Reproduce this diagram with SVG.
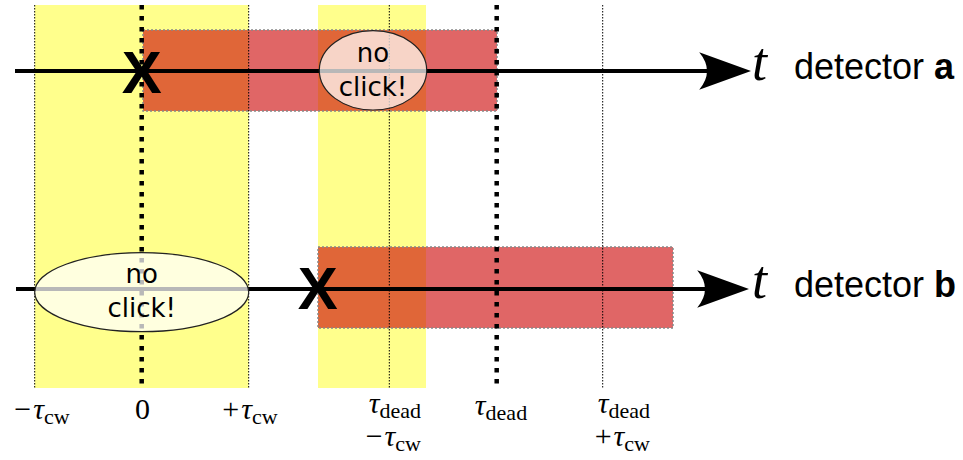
<svg xmlns="http://www.w3.org/2000/svg" width="963" height="460" viewBox="0 0 963 460">
<style>
.band{fill:#ffff8c;stroke:none}
.dead{fill:#cc0000;fill-opacity:0.6;stroke:#888;stroke-width:1.5;stroke-dasharray:2 2}
.thin{stroke:#000;stroke-width:1;stroke-dasharray:1.5 1.5;fill:none}
.thick{stroke:#000;stroke-width:4.5;stroke-dasharray:4.5 6.5;fill:none}
.axis{stroke:#000;stroke-width:4;fill:none;marker-end:url(#arr)}
.bubble{fill:#fff;fill-opacity:0.72;stroke:#222;stroke-width:1.2}
.bt{font-family:"DejaVu Sans",sans-serif;font-size:26px;text-anchor:middle;fill:#000}
.x{font-family:"Liberation Sans",Arial,sans-serif;font-weight:bold;font-size:60px;text-anchor:middle;fill:#000}
.tt{font-family:"Liberation Serif","Times New Roman",serif;font-style:italic;font-size:54px;fill:#000}
.det{font-family:"Liberation Sans",Arial,sans-serif;font-size:36px;fill:#000}
.m{font-family:"Liberation Serif","Times New Roman",serif;font-size:30px;fill:#000}
.i{font-style:italic}
.s{font-size:22px}
</style>
<defs>
<marker id="arr" markerUnits="userSpaceOnUse" markerWidth="52" markerHeight="40" viewBox="0 0 50 36" refX="20" refY="18" orient="auto">
<path d="M50,18 L0,0 Q15,18 0,36 Z" fill="#000"/>
</marker>
</defs>
<g id="windows">
<rect class="band" x="34.7" y="5" width="214" height="383"/>
<rect class="band" x="318" y="5" width="108" height="383"/>
</g>
<g id="deadtimes">
<rect id="dead-a" class="dead" x="143" y="30" width="354" height="81"/>
<rect id="dead-b" class="dead" x="318" y="247" width="355" height="81"/>
</g>
<g id="markers">
<line class="thin" x1="34.7" y1="5" x2="34.7" y2="388"/>
<line class="thin" x1="248.7" y1="5" x2="248.7" y2="388"/>
<line class="thin" x1="389.3" y1="5" x2="389.3" y2="388"/>
<line class="thin" x1="602.7" y1="5" x2="602.7" y2="388"/>
<line class="thick" x1="141.7" y1="5" x2="141.7" y2="388"/>
<line class="thick" x1="496.7" y1="5" x2="496.7" y2="388"/>
</g>
<g id="connectors">
<line id="axis-a" class="axis" x1="15" y1="71" x2="720" y2="71"/>
<line id="axis-b" class="axis" x1="16" y1="289" x2="718" y2="289"/>
</g>
<g id="noclick-a">
<ellipse class="bubble" cx="373" cy="70.3" rx="53.7" ry="39.7"/>
<text class="bt" x="373" y="61.5">no</text>
<text class="bt" x="373" y="96">click!</text>
</g>
<g id="noclick-b">
<ellipse class="bubble" cx="141.7" cy="292.2" rx="107" ry="39.5"/>
<text class="bt" x="141.7" y="283">no</text>
<text class="bt" x="141.7" y="317">click!</text>
</g>
<g id="click-a"><text class="x" x="141.7" y="92.7">X</text></g>
<g id="click-b"><text class="x" x="317.8" y="309.3">X</text></g>
<g id="label-a">
<text class="tt" x="752" y="80">t</text>
<text class="det" x="794" y="79">detector <tspan font-weight="bold">a</tspan></text>
</g>
<g id="label-b">
<text class="tt" x="752" y="298">t</text>
<text class="det" x="794" y="297">detector <tspan font-weight="bold">b</tspan></text>
</g>
<g id="ticks">
<text class="m" x="42" y="419" text-anchor="middle">−<tspan class="i" dx="2">τ</tspan><tspan class="s" dy="5">cw</tspan></text>
<text class="m" x="142.5" y="419" text-anchor="middle">0</text>
<text class="m" x="250" y="419" text-anchor="middle">+<tspan class="i" dx="2">τ</tspan><tspan class="s" dy="5">cw</tspan></text>
<text class="m" x="421" y="413" text-anchor="end"><tspan class="i">τ</tspan><tspan class="s" dy="5">dead</tspan></text>
<text class="m" x="421" y="446" text-anchor="end">−<tspan class="i" dx="2">τ</tspan><tspan class="s" dy="5">cw</tspan></text>
<text class="m" x="501" y="415" text-anchor="middle"><tspan class="i">τ</tspan><tspan class="s" dy="5">dead</tspan></text>
<text class="m" x="650" y="413" text-anchor="end"><tspan class="i">τ</tspan><tspan class="s" dy="5">dead</tspan></text>
<text class="m" x="650" y="446" text-anchor="end">+<tspan class="i" dx="2">τ</tspan><tspan class="s" dy="5">cw</tspan></text>
</g>
</svg>
